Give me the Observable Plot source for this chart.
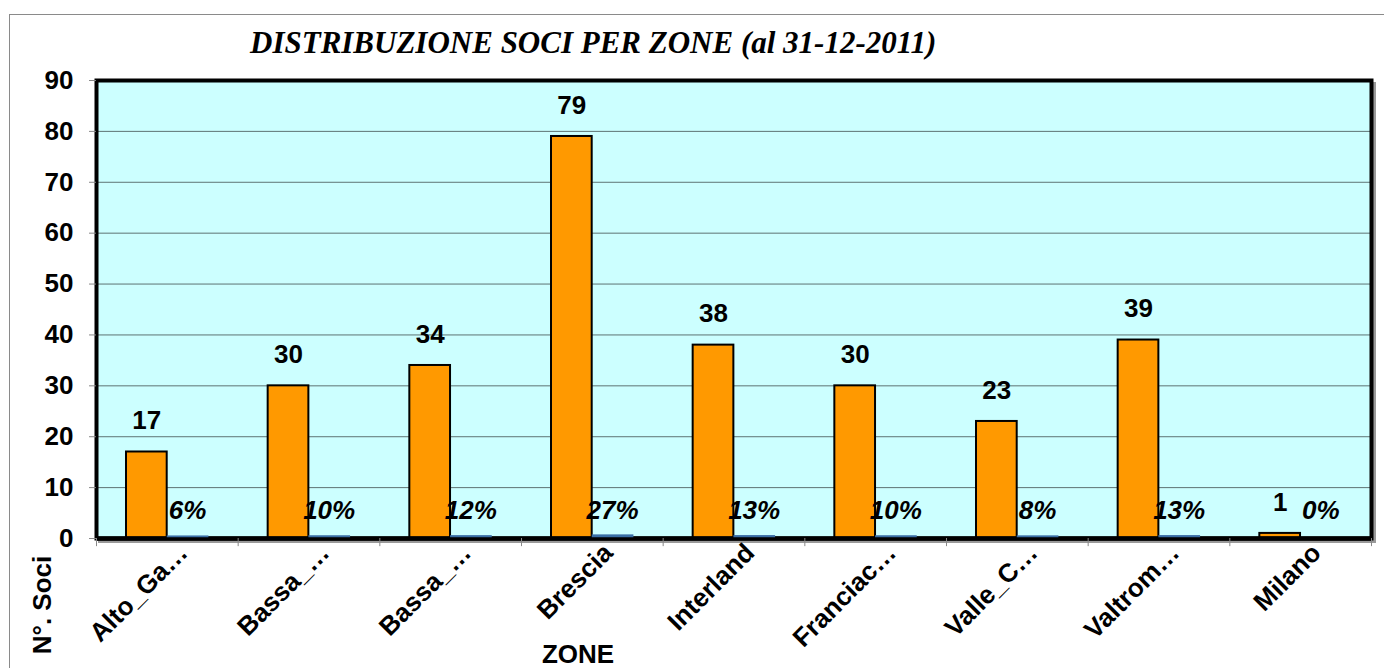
<!DOCTYPE html>
<html>
<head>
<meta charset="utf-8">
<script src="https://cdn.jsdelivr.net/npm/d3@7"></script>
<script src="https://cdn.jsdelivr.net/npm/@observablehq/plot@0.6"></script>
<style>
  html, body { margin: 0; padding: 0; background: #fff; overflow: hidden; }
  #wrap { position: relative; width: 1384px; height: 668px; overflow: hidden; }
  #border { position: absolute; left: 9px; top: 14px; width: 1400px; height: 700px; border: 1px solid #8a8a8a; box-sizing: border-box; }
  #chart { position: absolute; left: 0; top: 0; }
  .t { position: absolute; white-space: nowrap; line-height: 1; }
  #title { left: 250px; top: 27px; font-family: "Liberation Serif", "Times New Roman", serif; font-weight: bold; font-style: italic; font-size: 31px; }
  #ylab { left: 42px; top: 605px; transform: translate(-50%, -50%) rotate(-90deg); font-family: "Liberation Sans", Arial, sans-serif; font-weight: bold; font-size: 26px; }
  #xlab { left: 578px; top: 654px; transform: translate(-50%, -50%); font-family: "Liberation Sans", Arial, sans-serif; font-weight: bold; font-size: 26px; }
</style>
</head>
<body>
<div id="wrap">
  <div id="border"></div>
  <div id="chart"></div>
  <div class="t" id="title">DISTRIBUZIONE SOCI PER ZONE (al 31-12-2011)</div>
  <div class="t" id="ylab">N°. Soci</div>
  <div class="t" id="xlab">ZONE</div>
</div>
<script>
const zoneLabels = ["Alto_Ga…", "Bassa_…", "Bassa_…", "Brescia", "Interland", "Franciac…", "Valle_C…", "Valtrom…", "Milano"];
const soci = [17, 30, 34, 79, 38, 30, 23, 39, 1];
const percent = [6, 10, 12, 27, 13, 10, 8, 13, 0];
const yTicks = [0, 10, 20, 30, 40, 50, 60, 70, 80, 90];

const idx = d3.range(zoneLabels.length);
const W = 1384, H = 668, ML = 96, MR = 13, MT = 80, MB = 130;
const bw = (W - ML - MR) / idx.length;
const font = "Liberation Sans, Arial, sans-serif";

const chart = Plot.plot({
  width: W, height: H,
  marginTop: MT, marginBottom: MB, marginLeft: ML, marginRight: MR,
  x: {type: "band", domain: idx, padding: 0, round: false, axis: null},
  y: {domain: [0, 90], axis: null},
  style: {background: "transparent", fontFamily: font, overflow: "visible"},
  marks: [
    Plot.frame({stroke: "#9a9a9a", strokeWidth: 3, dx: 3, dy: 3}),
    Plot.frame({fill: "#ccffff"}),
    Plot.gridY(yTicks.filter(t => t > 0 && t < 90), {stroke: "#4a5a5a", strokeOpacity: 0.85, strokeWidth: 1}),
    Plot.barY(idx, {x: i => i, y: i => soci[i], fill: "#ff9900", stroke: "#000", strokeWidth: 2, insetLeft: 30, insetRight: bw - 70.7}),
    Plot.ruleY([0], {stroke: "#000", strokeWidth: 4.5}),
    Plot.frame({stroke: "#000", strokeWidth: 4}),
    Plot.barY(idx, {x: i => i, y: i => percent[i] / 100, fill: "#3a6ea5", stroke: "#3a6ea5", strokeWidth: 1.5, dy: -1.5, insetLeft: 71.5, insetRight: 30}),
    Plot.text(idx, {x: i => i, y: i => soci[i], text: i => String(soci[i]), dx: -bw / 2 + 50.3, dy: -31, fontSize: 26, fontWeight: "bold", fill: "#000"}),
    Plot.text(idx, {x: i => i, y: 0, text: i => percent[i] + "%", dx: -bw / 2 + 91, dy: -28, fontSize: 26, fontWeight: "bold", fontStyle: "italic", fill: "#000"}),
    Plot.ruleX(idx, {x: i => i, y1: 0, y2: -1.6, dx: -bw / 2, stroke: "#888", strokeWidth: 1}),
    Plot.ruleX([idx[idx.length - 1]], {x: i => i, y1: 0, y2: -1.6, dx: bw / 2, stroke: "#888", strokeWidth: 1}),
    Plot.axisY({ticks: yTicks, tickSize: 7, tickPadding: 16, fontSize: 26, fontWeight: "bold", stroke: "#888", fill: "#000", label: null}),
    Plot.axisX({tickFormat: i => zoneLabels[i], tickRotate: -45, tickSize: 0, tickPadding: 0, dx: 16, dy: 10, fontSize: 26, fontWeight: "bold", fill: "#000", label: null})
  ]
});
document.getElementById("chart").appendChild(chart);
</script>
</body>
</html>
